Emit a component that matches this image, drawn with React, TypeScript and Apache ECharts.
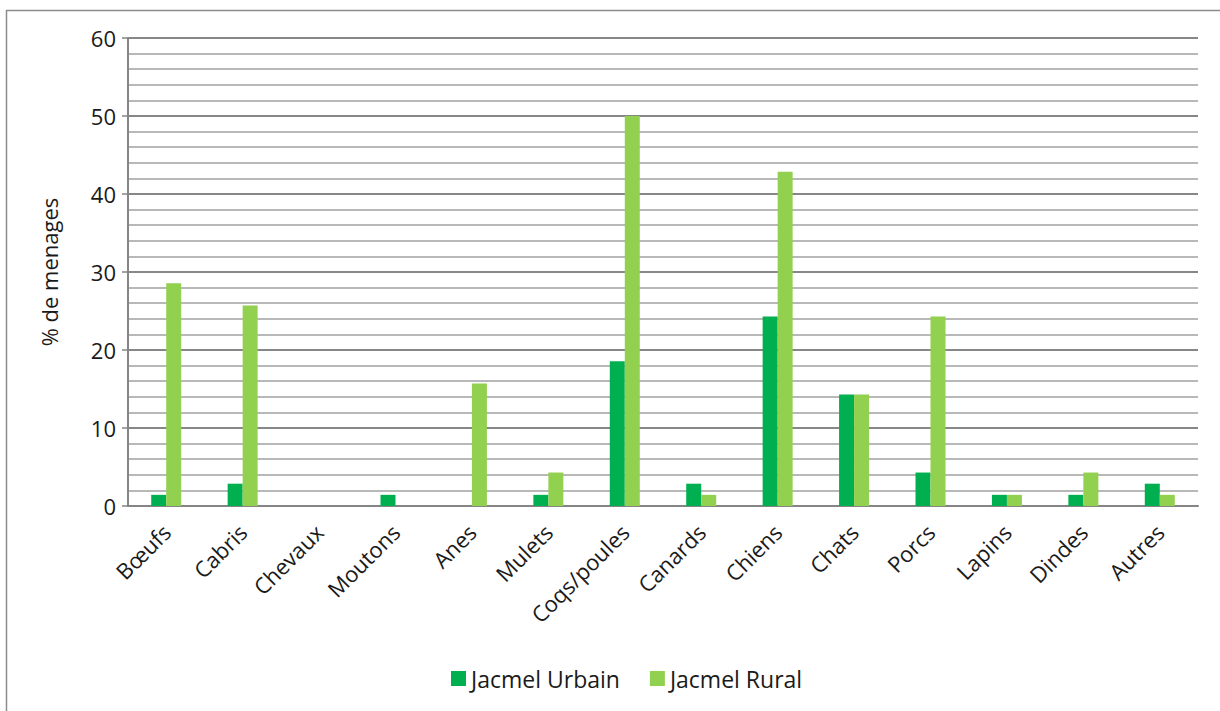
import React, { useEffect, useRef } from "react";
import * as echarts from "echarts";

const categories = ["Bœufs", "Cabris", "Chevaux", "Moutons", "Anes", "Mulets", "Coqs/poules", "Canards", "Chiens", "Chats", "Porcs", "Lapins", "Dindes", "Autres"];
const urbain = [1.43, 2.86, 0, 1.43, 0, 1.43, 18.57, 2.86, 24.29, 14.29, 4.29, 1.43, 1.43, 2.86];
const rural = [28.57, 25.71, 0, 0, 15.71, 4.29, 50, 1.43, 42.86, 14.29, 24.29, 1.43, 4.29, 1.43];
const seriesNames = ["Jacmel Urbain", "Jacmel Rural"];
const yTicks = { min: 0, max: 60, interval: 10 };

const FONT = "'Open Sans', sans-serif";

export default function App() {
  const ref = useRef<HTMLDivElement>(null);
  useEffect(() => {
    if (!ref.current) return;
    const chart = echarts.init(ref.current, null, { renderer: "svg" });
    chart.setOption({
      animation: false,
      backgroundColor: "#ffffff",
      textStyle: { fontFamily: FONT },
      graphic: [
        {
          type: "rect",
          shape: { x: 6.5, y: 10.5, width: 1230, height: 720 },
          style: { fill: "none", stroke: "#8c8c8c", lineWidth: 1.5 },
          silent: true,
        },
      ],
      grid: { left: 128, right: 22, top: 38, bottom: 205, containLabel: false },
      legend: {
        bottom: 16,
        left: 446,
        itemWidth: 15,
        itemHeight: 15,
        itemGap: 30,
        icon: "rect",
        textStyle: { fontSize: 23, color: "#1a1a1a", fontFamily: FONT },
        data: seriesNames,
      },
      xAxis: {
        type: "category",
        data: categories,
        axisLine: { show: true, lineStyle: { color: "#858585", width: 2 } },
        axisTick: { show: false },
        axisLabel: { rotate: 45, fontSize: 22, color: "#1a1a1a", margin: 22, fontFamily: FONT, interval: 0 },
        splitLine: { show: false },
      },
      yAxis: {
        type: "value",
        min: yTicks.min,
        max: yTicks.max,
        interval: yTicks.interval,
        name: "% de menages",
        nameLocation: "middle",
        nameGap: 68,
        nameRotate: 90,
        nameTextStyle: { fontSize: 22, color: "#1a1a1a", fontFamily: FONT },
        axisLine: { show: true, lineStyle: { color: "#858585", width: 2 } },
        axisTick: { show: true, length: 6, lineStyle: { color: "#858585", width: 1.5 } },
        axisLabel: { fontSize: 22, color: "#1a1a1a", margin: 12, fontFamily: FONT },
        splitLine: { show: true, lineStyle: { color: "#878787", width: 2 } },
        minorTick: { show: false, splitNumber: 5 },
        minorSplitLine: { show: true, lineStyle: { color: "#b8b8b8", width: 2 } },
      },
      series: [
        {
          name: seriesNames[0],
          type: "bar",
          data: urbain,
          barWidth: 15,
          barGap: "0%",
          itemStyle: { color: "#00B050" },
        },
        {
          name: seriesNames[1],
          type: "bar",
          data: rural,
          barWidth: 15,
          barGap: "0%",
          itemStyle: { color: "#92D050" },
        },
      ],
    });
    return () => chart.dispose();
  }, []);
  return (
    <div
      ref={ref}
      style={{ position: "absolute", left: 0, top: 0, width: 1220, height: 711 }}
    />
  );
}
